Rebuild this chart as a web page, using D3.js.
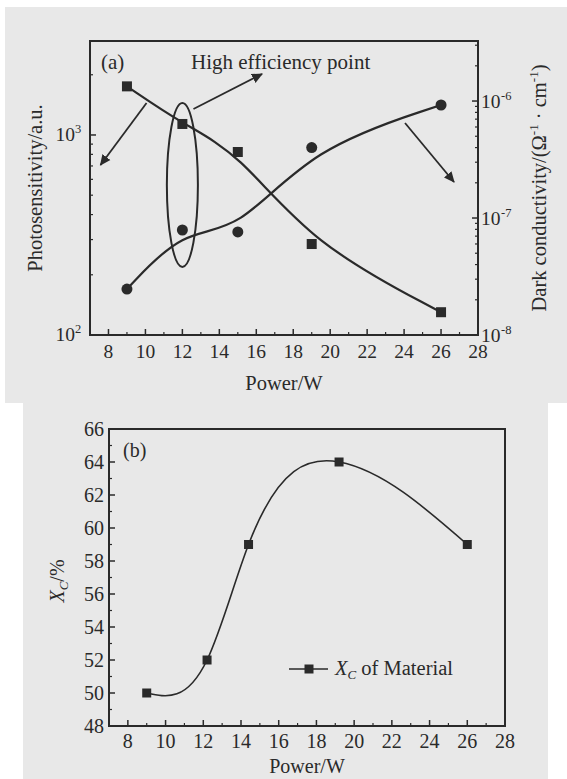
<!DOCTYPE html>
<html>
<head>
<meta charset="utf-8">
<script src="https://cdn.jsdelivr.net/npm/d3@7"></script>
<style>
body { margin: 0; background: #fff; }
text { font-family: "Liberation Serif", "Times New Roman", serif; fill: #2a2a2a; }
</style>
</head>
<body>
<div id="chart"></div>
<script>
// panel (a): photosensitivity (squares, left) and dark conductivity (circles, right)
const powerA = [9, 12, 15, 19, 26]
const photosensitivity = [1750, 1135, 822, 285, 130]
const darkConductivity = [2.47e-8, 7.9e-8, 7.6e-8, 4.0e-7, 9.25e-7]

// panel (b): crystalline fraction
const powerB = [9, 12.2, 14.4, 19.2, 26]
const crystallinity = [50, 52, 59, 64, 59]

const xTicks = [8, 10, 12, 14, 16, 18, 20, 22, 24, 26, 28]
const yTicksB = [48, 50, 52, 54, 56, 58, 60, 62, 64, 66]

const ink = "#2a2a2a"

const svg = d3.select("#chart")
    .append("svg")
    .attr("width", 567)
    .attr("height", 779)

// paper backgrounds of the two scanned panels
svg.append("rect").attr("x", 5).attr("y", 7).attr("width", 562).attr("height", 396).attr("fill", "#e8e8e8")
svg.append("rect").attr("x", 23).attr("y", 403).attr("width", 525).attr("height", 376).attr("fill", "#e8e8e8")

// natural cubic spline as a function of x (like Origin's spline connect)
function curveNaturalX(context) {
    let xs, ys
    return {
        areaStart() {}, areaEnd() {},
        lineStart() { xs = []; ys = [] },
        point(x, y) { xs.push(+x); ys.push(+y) },
        lineEnd() {
            const n = xs.length
            if (n < 2) return
            const h = []
            for (let i = 0; i < n - 1; i++) h.push(xs[i + 1] - xs[i])
            const M = new Array(n).fill(0)
            const a = [], b = [], c = [], d = []
            for (let i = 1; i < n - 1; i++) {
                a.push(h[i - 1]); b.push(2 * (h[i - 1] + h[i])); c.push(h[i])
                d.push(6 * ((ys[i + 1] - ys[i]) / h[i] - (ys[i] - ys[i - 1]) / h[i - 1]))
            }
            const m = b.length
            for (let i = 1; i < m; i++) {
                const w = a[i] / b[i - 1]
                b[i] -= w * c[i - 1]
                d[i] -= w * d[i - 1]
            }
            for (let i = m - 1; i >= 0; i--) {
                M[i + 1] = (d[i] - (i < m - 1 ? c[i] * M[i + 2] : 0)) / b[i]
            }
            context.moveTo(xs[0], ys[0])
            for (let i = 0; i < n - 1; i++) {
                const s = (ys[i + 1] - ys[i]) / h[i]
                const t0 = s - h[i] * (2 * M[i] + M[i + 1]) / 6
                const t1 = s + h[i] * (M[i] + 2 * M[i + 1]) / 6
                context.bezierCurveTo(xs[i] + h[i] / 3, ys[i] + t0 * h[i] / 3,
                    xs[i + 1] - h[i] / 3, ys[i + 1] - t1 * h[i] / 3, xs[i + 1], ys[i + 1])
            }
        }
    }
}

// arrow head marker
svg.append("defs").append("marker")
    .attr("id", "head")
    .attr("viewBox", "0 0 10 10")
    .attr("refX", 9).attr("refY", 5)
    .attr("markerWidth", 11).attr("markerHeight", 11)
    .attr("markerUnits", "userSpaceOnUse")
    .attr("orient", "auto")
    .append("path")
    .attr("d", "M0,0.5 L10,5 L0,9.5 Z")
    .attr("fill", ink)

// ---------------- panel (a) ----------------
const A = {left: 90, right: 478, top: 41, bottom: 335}
const xA = d3.scaleLinear().domain([7, 28]).range([A.left, A.right])
const yPhoto = d3.scaleLog().domain([100, 2950]).range([A.bottom, A.top])
const yDark = d3.scaleLog().domain([1e-8, 3.26e-6]).range([A.bottom, A.top])

const gA = svg.append("g")

// bottom ticks (inward)
gA.selectAll(".xmajA").data(xTicks).enter().append("line")
    .attr("x1", d => xA(d)).attr("x2", d => xA(d))
    .attr("y1", A.bottom).attr("y2", A.bottom - 6)
    .attr("stroke", ink).attr("stroke-width", 1.5)
gA.selectAll(".xminA").data(d3.range(7, 28, 2)).enter().append("line")
    .attr("x1", d => xA(d)).attr("x2", d => xA(d))
    .attr("y1", A.bottom).attr("y2", A.bottom - 3)
    .attr("stroke", ink).attr("stroke-width", 1.2)
gA.selectAll(".xlabA").data(xTicks).enter().append("text")
    .attr("x", d => xA(d)).attr("y", 358)
    .attr("text-anchor", "middle").attr("font-size", 19.5)
    .text(d => d)

// left log axis
const photoMinor = [200, 300, 400, 500, 600, 700, 800, 900, 2000]
gA.selectAll(".lmin").data(photoMinor).enter().append("line")
    .attr("x1", A.left).attr("x2", A.left + 3)
    .attr("y1", d => yPhoto(d)).attr("y2", d => yPhoto(d))
    .attr("stroke", ink).attr("stroke-width", 1.2)
gA.selectAll(".lmaj").data([100, 1000]).enter().append("line")
    .attr("x1", A.left).attr("x2", A.left + 6)
    .attr("y1", d => yPhoto(d)).attr("y2", d => yPhoto(d))
    .attr("stroke", ink).attr("stroke-width", 1.5)
const photoLabels = [{v: 100, e: "2"}, {v: 1000, e: "3"}]
photoLabels.forEach(function(t) {
    gA.append("text")
        .attr("x", A.left - 15).attr("y", yPhoto(t.v) + 6)
        .attr("text-anchor", "end").attr("font-size", 19.5)
        .text("10")
    gA.append("text")
        .attr("x", A.left - 15).attr("y", yPhoto(t.v) - 2)
        .attr("font-size", 12.5)
        .text(t.e)
})

// right log axis
const darkMinor = []
;[1e-8, 1e-7, 1e-6].forEach(function(dec) {
    for (let k = 2; k <= 9; k++) if (dec * k < 3.26e-6) darkMinor.push(dec * k)
})
gA.selectAll(".rmin").data(darkMinor).enter().append("line")
    .attr("x1", A.right).attr("x2", A.right - 3)
    .attr("y1", d => yDark(d)).attr("y2", d => yDark(d))
    .attr("stroke", ink).attr("stroke-width", 1.2)
gA.selectAll(".rmaj").data([1e-8, 1e-7, 1e-6]).enter().append("line")
    .attr("x1", A.right).attr("x2", A.right - 6)
    .attr("y1", d => yDark(d)).attr("y2", d => yDark(d))
    .attr("stroke", ink).attr("stroke-width", 1.5)
const darkLabels = [{v: 1e-8, e: "-8"}, {v: 1e-7, e: "-7"}, {v: 1e-6, e: "-6"}]
darkLabels.forEach(function(t) {
    gA.append("text")
        .attr("x", A.right + 3).attr("y", yDark(t.v) + 7)
        .attr("font-size", 19.5)
        .text("10")
    gA.append("text")
        .attr("x", A.right + 23).attr("y", yDark(t.v) - 1)
        .attr("font-size", 12.5)
        .text(t.e)
})

// frame
gA.append("rect")
    .attr("x", A.left).attr("y", A.top)
    .attr("width", A.right - A.left).attr("height", A.bottom - A.top)
    .attr("fill", "none").attr("stroke", ink).attr("stroke-width", 2)

// fitted curves (B-spline through the points)
const photoLine = d3.line().curve(d3.curveBasis)
    .x((d, i) => xA(powerA[i])).y(d => yPhoto(d))
const darkLine = d3.line().curve(d3.curveBasis)
    .x((d, i) => xA(powerA[i])).y(d => yDark(d))
gA.append("path").attr("d", photoLine(photosensitivity))
    .attr("fill", "none").attr("stroke", ink).attr("stroke-width", 2.2)
gA.append("path").attr("d", darkLine(darkConductivity))
    .attr("fill", "none").attr("stroke", ink).attr("stroke-width", 2.2)

gA.selectAll(".sq").data(photosensitivity).enter().append("rect")
    .attr("x", (d, i) => xA(powerA[i]) - 5).attr("y", d => yPhoto(d) - 5)
    .attr("width", 10).attr("height", 10)
    .attr("fill", ink)
gA.selectAll(".ci").data(darkConductivity).enter().append("circle")
    .attr("cx", (d, i) => xA(powerA[i])).attr("cy", d => yDark(d))
    .attr("r", 5.5).attr("fill", ink)

// annotations: ellipse around 12 W and arrows
const ellipseA = {x: 12, halfWidth: 0.84, top: 1445, bottom: 219}
gA.append("ellipse")
    .attr("cx", xA(ellipseA.x))
    .attr("cy", (yPhoto(ellipseA.top) + yPhoto(ellipseA.bottom)) / 2)
    .attr("rx", xA(ellipseA.x + ellipseA.halfWidth) - xA(ellipseA.x))
    .attr("ry", (yPhoto(ellipseA.bottom) - yPhoto(ellipseA.top)) / 2)
    .attr("fill", "none").attr("stroke", ink).attr("stroke-width", 2)

const arrows = [
    {x1: 10.06, y1: 1445, x2: 7.57, y2: 708},
    {x1: 12.6, y1: 1349, x2: 16.31, y2: 2018},
    {x1: 24.05, y1: 1148, x2: 26.7, y2: 582}
]
gA.selectAll(".arrow").data(arrows).enter().append("line")
    .attr("x1", d => xA(d.x1)).attr("y1", d => yPhoto(d.y1))
    .attr("x2", d => xA(d.x2)).attr("y2", d => yPhoto(d.y2))
    .attr("stroke", ink).attr("stroke-width", 1.8)
    .attr("marker-end", "url(#head)")

gA.append("text").attr("x", 101).attr("y", 69).attr("font-size", 21).text("(a)")
gA.append("text").attr("x", 191).attr("y", 69).attr("font-size", 21).text("High efficiency point")

gA.append("text")
    .attr("x", xA(17.5)).attr("y", 390)
    .attr("text-anchor", "middle").attr("font-size", 20.5)
    .text("Power/W")
gA.append("text")
    .attr("transform", "translate(42,188) rotate(-90)")
    .attr("text-anchor", "middle").attr("font-size", 20.5)
    .text("Photosensitivity/a.u.")
const darkTitle = gA.append("text")
    .attr("transform", "translate(546,188) rotate(-90)")
    .attr("text-anchor", "middle").attr("font-size", 20.5)
darkTitle.append("tspan").text("Dark conductivity/(Ω")
darkTitle.append("tspan").attr("dy", -8).attr("font-size", 13).text("-1")
darkTitle.append("tspan").attr("dy", 8).text(" · cm")
darkTitle.append("tspan").attr("dy", -8).attr("font-size", 13).text("-1")
darkTitle.append("tspan").attr("dy", 8).text(")")

// ---------------- panel (b) ----------------
const B = {left: 109, right: 505, top: 429, bottom: 726}
const xB = d3.scaleLinear().domain([7, 28]).range([B.left, B.right])
const yB = d3.scaleLinear().domain([48, 66]).range([B.bottom, B.top])

const gB = svg.append("g")

gB.selectAll(".xmajB").data(xTicks).enter().append("line")
    .attr("x1", d => xB(d)).attr("x2", d => xB(d))
    .attr("y1", B.bottom).attr("y2", B.bottom - 6)
    .attr("stroke", ink).attr("stroke-width", 1.5)
gB.selectAll(".xminB").data(d3.range(7, 28, 2)).enter().append("line")
    .attr("x1", d => xB(d)).attr("x2", d => xB(d))
    .attr("y1", B.bottom).attr("y2", B.bottom - 3)
    .attr("stroke", ink).attr("stroke-width", 1.2)
gB.selectAll(".xlabB").data(xTicks).enter().append("text")
    .attr("x", d => xB(d)).attr("y", 748)
    .attr("text-anchor", "middle").attr("font-size", 20)
    .text(d => d)

gB.selectAll(".ymajB").data(yTicksB).enter().append("line")
    .attr("x1", B.left).attr("x2", B.left + 6)
    .attr("y1", d => yB(d)).attr("y2", d => yB(d))
    .attr("stroke", ink).attr("stroke-width", 1.5)
gB.selectAll(".yminB").data(d3.range(49, 66, 2)).enter().append("line")
    .attr("x1", B.left).attr("x2", B.left + 3)
    .attr("y1", d => yB(d)).attr("y2", d => yB(d))
    .attr("stroke", ink).attr("stroke-width", 1.2)
gB.selectAll(".ylabB").data(yTicksB).enter().append("text")
    .attr("x", B.left - 5).attr("y", d => yB(d) + 7)
    .attr("text-anchor", "end").attr("font-size", 20)
    .text(d => d)

gB.append("rect")
    .attr("x", B.left).attr("y", B.top)
    .attr("width", B.right - B.left).attr("height", B.bottom - B.top)
    .attr("fill", "none").attr("stroke", ink).attr("stroke-width", 2)

const xcLine = d3.line().curve(curveNaturalX)
    .x((d, i) => xB(powerB[i])).y(d => yB(d))
gB.append("path").attr("d", xcLine(crystallinity))
    .attr("fill", "none").attr("stroke", ink).attr("stroke-width", 1.6)
gB.selectAll(".sqB").data(crystallinity).enter().append("rect")
    .attr("x", (d, i) => xB(powerB[i]) - 4.5).attr("y", d => yB(d) - 4.5)
    .attr("width", 9).attr("height", 9)
    .attr("fill", ink)

gB.append("text").attr("x", 123).attr("y", 457).attr("font-size", 20).text("(b)")

// legend
gB.append("line").attr("x1", 289).attr("x2", 328).attr("y1", 669).attr("y2", 669)
    .attr("stroke", ink).attr("stroke-width", 1.6)
gB.append("rect").attr("x", 304.5).attr("y", 664.5).attr("width", 9).attr("height", 9).attr("fill", ink)
const leg = gB.append("text").attr("x", 335).attr("y", 675).attr("font-size", 20.5)
leg.append("tspan").attr("font-style", "italic").text("X")
leg.append("tspan").attr("font-style", "italic").attr("font-size", 13).attr("dy", 4).text("C")
leg.append("tspan").attr("dy", -4).text(" of Material")

gB.append("text")
    .attr("x", xB(17.5)).attr("y", 773)
    .attr("text-anchor", "middle").attr("font-size", 20)
    .text("Power/W")
const yTitle = gB.append("text")
    .attr("transform", "translate(64,581) rotate(-90)")
    .attr("text-anchor", "middle").attr("font-size", 20)
yTitle.append("tspan").attr("font-style", "italic").text("X")
yTitle.append("tspan").attr("font-style", "italic").attr("font-size", 13).attr("dy", 4).text("C")
yTitle.append("tspan").attr("dy", -4).text("/%")
</script>
</body>
</html>
